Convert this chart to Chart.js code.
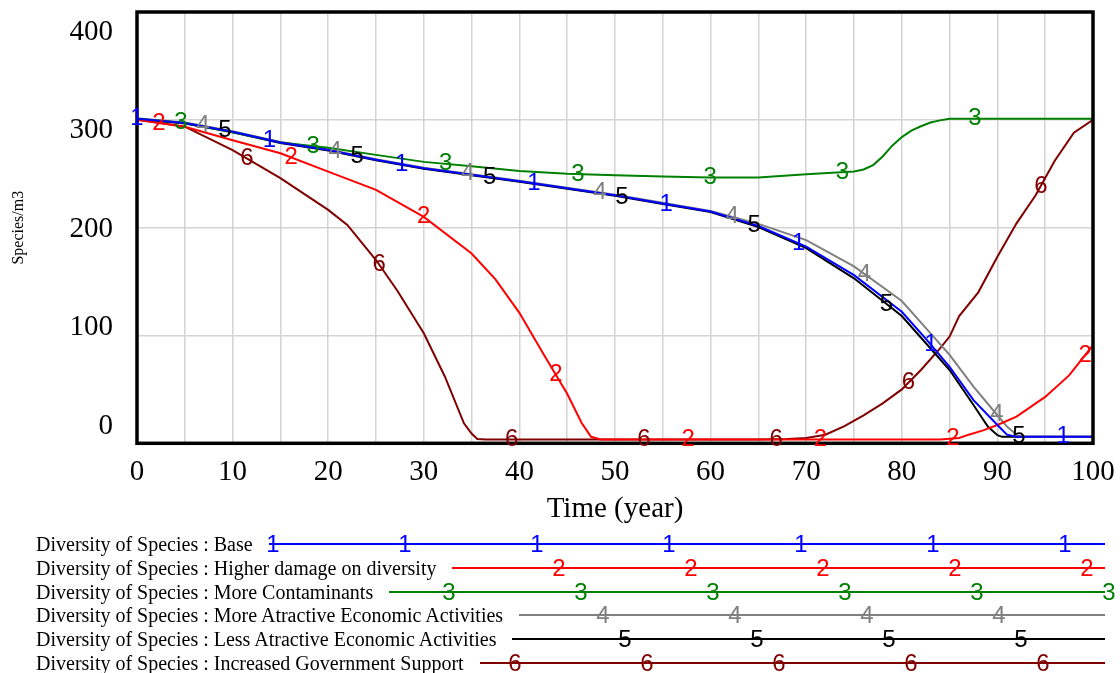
<!DOCTYPE html>
<html lang="en">
<head>
  <meta charset="UTF-8">
  <title>Diversity of Species</title>
  <script src="https://cdn.jsdelivr.net/npm/chart.js"></script>
  <style>
    body { margin: 0; background: #fff; width: 1120px; height: 673px; overflow: hidden; position: relative; font-family: 'Liberation Serif', 'Times New Roman', serif; }
    #wrap { position: absolute; left: 0; top: 0; width: 1120px; height: 530px; }
    #legend { position: absolute; left: 0; top: 0; width: 1120px; height: 673px; pointer-events: none; }
    .row-text { position: absolute; left: 36px; font-size: 20px; line-height: 24px; white-space: nowrap; color: #000; }
    .row-line { position: absolute; height: 2px; }
    .row-mark { position: absolute; font-family: 'Liberation Sans', Arial, sans-serif; font-size: 24px; line-height: 24px; transform: translate(-50%, -50%); }
  </style>
</head>
<body>
  <div id="wrap"><canvas id="chart"></canvas></div>
  <div id="legend"></div>

  <script>
  // ticks
  const xTicks = [0, 10, 20, 30, 40, 50, 60, 70, 80, 90, 100];
  const xGrid = [0, 5, 10, 15, 20, 25, 30, 35, 40, 45, 50, 55, 60, 65, 70, 75, 80, 85, 90, 95, 100];
  const yTicks = [0, 100, 200, 300, 400];

  // series (time in years, value in Species/m3)
  const tBase = [0, 5, 10, 15, 20, 25, 30, 35, 40, 45, 50, 55, 60, 65, 70, 75, 80, 82.5, 85, 87.5, 90, 91, 92, 100];
  const vBase = [301, 297, 289, 279, 272, 263, 255, 249, 243, 236.5, 230, 222.5, 215, 201.5, 182.5, 156, 122, 97, 71, 40, 17, 8, 6, 6];

  const tDamage = [0, 5, 10, 15, 20, 25, 30, 35, 37.5, 40, 42.5, 45, 46.5, 47.5, 48.5, 60, 70, 80, 84, 86, 87, 88.5, 90, 92, 95, 97.5, 100];
  const vDamage = [300, 293.5, 281, 269, 252, 235, 210, 176, 152, 121, 83, 46, 19, 6, 3.5, 3.5, 3.5, 3.5, 3.5, 5, 8, 12, 17, 24.7, 43, 63, 91];

  const tContam = [0, 5, 10, 15, 20, 25, 30, 35, 40, 45, 50, 55, 60, 65, 70, 75, 76, 77, 78, 79, 80, 81, 82, 83, 84, 85, 100];
  const vContam = [301, 297, 288.5, 279, 274, 267.5, 261, 257, 252.5, 250, 248.5, 247.5, 246.5, 246.5, 249.5, 252, 254, 258, 266, 276, 284, 290, 294, 297.5, 299.5, 301, 301];

  const tMoreAttr = [0, 5, 10, 15, 20, 25, 30, 35, 40, 45, 50, 55, 60, 65, 70, 75, 80, 82.5, 85, 87.5, 90, 91, 92, 92.5, 100];
  const vMoreAttr = [301.5, 297.5, 289.5, 279.5, 272.5, 263.5, 255.5, 249.5, 243.5, 237, 230.5, 223, 215.5, 203.5, 188.5, 164, 132, 107, 82, 52.5, 26, 15.5, 8, 6, 6];

  const tLessAttr = [0, 5, 10, 15, 20, 25, 30, 35, 40, 45, 50, 55, 60, 65, 70, 75, 80, 82.5, 85, 87.5, 89, 90, 90.5, 100];
  const vLessAttr = [300.5, 296.5, 288.5, 278.5, 271.5, 262.5, 254.5, 248.5, 242.5, 236, 229.5, 222, 214.5, 200.5, 181, 153, 118, 93, 68, 35.5, 15.5, 7.5, 6, 6];

  const tGov = [0, 5, 10, 15, 20, 22, 25, 27.2, 30, 32.2, 34.2, 35, 35.6, 36.5, 50, 65, 68, 70, 72, 74, 76, 78, 80, 82, 84, 85, 86, 88, 90, 92, 94, 96, 98, 100];
  const vGov = [300, 293.7, 272, 246, 216.5, 202.5, 170, 142, 102, 62, 18.5, 9, 4, 3.5, 3.5, 3.5, 4, 5, 8, 16, 26, 37, 50, 68, 88, 99, 118, 140, 173, 204, 230, 262, 288, 300];

  const seriesNames = [
    'Diversity of Species : Base',
    'Diversity of Species : Higher damage on diversity',
    'Diversity of Species : More Contaminants',
    'Diversity of Species : More Atractive Economic Activities',
    'Diversity of Species : Less Atractive Economic Activities',
    'Diversity of Species : Increased Government Support'
  ];
  const seriesTimes = [tBase, tDamage, tContam, tMoreAttr, tLessAttr, tGov];
  const seriesValues = [vBase, vDamage, vContam, vMoreAttr, vLessAttr, vGov];
  const seriesColors = ['#0000ff', '#ff0000', '#008000', '#808080', '#000000', '#800000'];

  // number markers along the lines (in years) and in the legend (in px)
  const markStep = 13.84;
  const markShift = 2.3;
  const legendMarkFirst = 273;
  const legendMarkShift = 22;
  const legendMarkStep = 132;

  const serif = 'Liberation Serif';

  function interp(ts, vs, t) {
    if (t <= ts[0]) return vs[0];
    for (let i = 1; i < ts.length; i++) {
      if (t <= ts[i]) {
        const f = (t - ts[i - 1]) / (ts[i] - ts[i - 1]);
        return vs[i - 1] + f * (vs[i] - vs[i - 1]);
      }
    }
    return vs[vs.length - 1];
  }

  const datasets = seriesNames.map((name, k) => ({
    label: name,
    data: seriesTimes[k].map((t, i) => ({ x: t, y: seriesValues[k][i] })),
    borderColor: seriesColors[k],
    backgroundColor: seriesColors[k],
    borderWidth: 2,
    pointRadius: 0,
    tension: 0,
    fill: false
  }));

  // frame + numbered markers
  const framePlugin = {
    id: 'frame',
    afterDatasetsDraw(chart) {
      const { ctx, chartArea: { left, top, right, bottom }, scales: { x, y } } = chart;
      ctx.save();
      ctx.strokeStyle = '#000';
      ctx.lineWidth = 3.5;
      ctx.strokeRect(left, top, right - left, bottom - top);
      ctx.font = '24px "Liberation Sans", Arial, sans-serif';
      ctx.textAlign = 'center';
      ctx.textBaseline = 'middle';
      seriesNames.forEach((name, k) => {
        ctx.fillStyle = seriesColors[k];
        for (let t = k * markShift; t <= 100; t += markStep) {
          const v = interp(seriesTimes[k], seriesValues[k], t);
          ctx.fillText(String(k + 1), x.getPixelForValue(t), y.getPixelForValue(v));
        }
      });
      ctx.restore();
    }
  };

  const chart = new Chart(document.getElementById('chart'), {
    type: 'line',
    data: { datasets },
    options: {
      responsive: true,
      maintainAspectRatio: false,
      animation: false,
      layout: { padding: { top: 12, right: 27, left: 0, bottom: 0 } },
      plugins: { legend: { display: false }, tooltip: { enabled: false } },
      scales: {
        x: {
          type: 'linear',
          min: 0,
          max: 100,
          afterBuildTicks: s => { s.ticks = xGrid.map(v => ({ value: v })); },
          afterFit: s => { s.height = 86.7; s.paddingLeft = 0; s.paddingRight = 0; },
          ticks: {
            autoSkip: false,
            maxRotation: 0,
            padding: 12,
            color: '#000',
            font: { family: serif, size: 29 },
            callback: v => xTicks.includes(v) ? String(v) : ''
          },
          grid: { color: '#d3d3d3', lineWidth: 1.5, drawTicks: false },
          border: { display: false },
          title: { display: true, text: 'Time (year)', color: '#000', font: { family: serif, size: 29 }, padding: { top: 0, bottom: 3 } }
        },
        y: {
          position: 'left',
          min: 0,
          max: 400,
          afterBuildTicks: s => { s.ticks = yTicks.map(v => ({ value: v })); },
          afterFit: s => { s.width = 0; s.paddingTop = 0; s.paddingBottom = 0; },
          ticks: { display: false },
          grid: { color: '#d3d3d3', lineWidth: 1.5, drawTicks: false },
          border: { display: false }
        },
        yl: {
          position: 'left',
          min: -17.6,
          max: 420.8,
          afterBuildTicks: s => { s.ticks = yTicks.map(v => ({ value: v })); },
          afterFit: s => { s.width = 137; s.paddingTop = 0; s.paddingBottom = 0; },
          ticks: { padding: 24, color: '#000', font: { family: serif, size: 29 } },
          grid: { display: false, drawTicks: false },
          border: { display: false },
          title: { display: true, text: 'Species/m3', color: '#000', font: { family: serif, size: 16 }, padding: { top: 9, bottom: 0 } }
        }
      }
    },
    plugins: [framePlugin]
  });

  // legend under the chart
  const legend = document.getElementById('legend');
  const legendTop = 532;
  const legendRowGap = 23.75;
  const legendEnd = 1105;
  seriesNames.forEach((name, k) => {
    const top = legendTop + k * legendRowGap;
    const text = document.createElement('div');
    text.className = 'row-text';
    text.style.top = top + 'px';
    text.textContent = name;
    legend.appendChild(text);

    const start = text.offsetLeft + text.offsetWidth + 16;
    const lineY = top + 12;
    const line = document.createElement('div');
    line.className = 'row-line';
    line.style.left = start + 'px';
    line.style.width = (legendEnd - start) + 'px';
    line.style.top = (lineY - 1) + 'px';
    line.style.background = seriesColors[k];
    legend.appendChild(line);

    for (let x = legendMarkFirst + k * legendMarkShift; x <= legendEnd + 8; x += legendMarkStep) {
      if (x < start) continue;
      const mark = document.createElement('span');
      mark.className = 'row-mark';
      mark.style.left = x + 'px';
      mark.style.top = lineY + 'px';
      mark.style.color = seriesColors[k];
      mark.textContent = String(k + 1);
      legend.appendChild(mark);
    }
  });
  </script>
</body>
</html>
